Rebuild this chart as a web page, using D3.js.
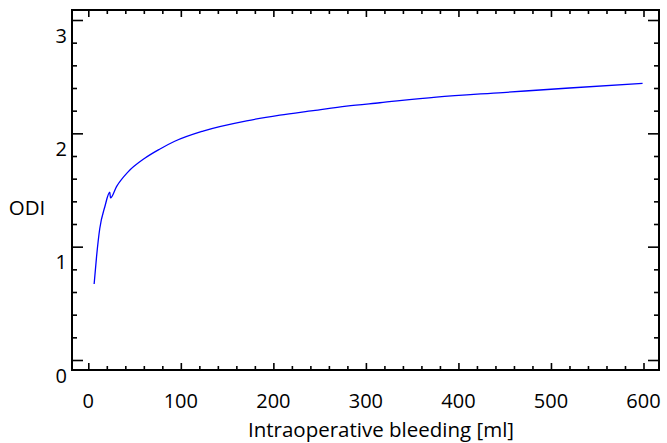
<!DOCTYPE html>
<meta charset="utf-8">
<style>
body { margin: 0; background: #fff; }
text { font-family: "Open Sans", Lato, sans-serif; fill: #000; }
.axis path { stroke: #000; stroke-width: 2px; }
.axis line { stroke: #000; stroke-width: 1.6px; }
</style>
<body>
<script src="https://d3js.org/d3.v7.min.js"></script>
<script>
// curve
var bleeding = [6.3, 8.9, 12.4, 17.8, 23.2, 24, 30.5, 43, 61, 77, 93.4, 124, 171, 207, 243, 279, 315, 376, 448, 520, 599];
var odi = [0.67, 0.91, 1.16, 1.35, 1.48, 1.43, 1.53, 1.66, 1.78, 1.86, 1.93, 2.02, 2.11, 2.16, 2.20, 2.24, 2.27, 2.32, 2.36, 2.40, 2.44];

var xMajor = [0, 100, 200, 300, 400, 500, 600];
var yMajor = [0, 1, 2, 3];

var width = 667,
    height = 443;

// plot box (don't call it "top", that's window.top)
var boxL = 72, boxR = 659, boxT = 10, boxB = 370;

var x = d3.scaleLinear().domain([0, 600]).range([88.3, 643.5]);
var y = d3.scaleLinear().domain([0, 3]).range([360, 20]);

var xMinor = d3.range(0, 620, 20).filter(function(v) { return v % 100 !== 0; });
var yMinor = d3.range(0, 3.1, 0.2).map(function(v) { return +v.toFixed(1); })
    .filter(function(v) { return v % 1 !== 0; });

var svg = d3.select("body").append("svg")
    .attr("width", width)
    .attr("height", height);

// inward ticks on all four sides
function ticks(axis, vals, size, tx, ty) {
  svg.append("g")
      .attr("class", "axis")
      .attr("transform", "translate(" + tx + "," + ty + ")")
      .call(axis.tickValues(vals).tickSizeInner(size).tickSizeOuter(0).tickFormat(""))
      .select("path").remove();
}

ticks(d3.axisBottom(x), xMajor, -7, 0, boxB);
ticks(d3.axisBottom(x), xMinor, -4, 0, boxB);
ticks(d3.axisTop(x), xMajor, -7, 0, boxT);
ticks(d3.axisTop(x), xMinor, -4, 0, boxT);
ticks(d3.axisLeft(y), yMajor, -11, boxL, 0);
ticks(d3.axisLeft(y), yMinor, -5, boxL, 0);
ticks(d3.axisRight(y), yMajor, -11, boxR, 0);
ticks(d3.axisRight(y), yMinor, -5, boxR, 0);

svg.append("rect")
    .attr("x", boxL)
    .attr("y", boxT)
    .attr("width", boxR - boxL)
    .attr("height", boxB - boxT)
    .attr("fill", "none")
    .attr("stroke", "#000")
    .attr("stroke-width", 2);

// tick labels
svg.selectAll(".xl")
    .data(xMajor)
  .enter().append("text")
    .attr("x", function(d) { return x(d); })
    .attr("y", 408)
    .attr("text-anchor", "middle")
    .style("font-size", "20px")
    .text(function(d) { return d; });

svg.selectAll(".yl")
    .data(yMajor)
  .enter().append("text")
    .attr("x", 67)
    .attr("y", function(d) { return y(d) + 22.5; })
    .attr("text-anchor", "end")
    .style("font-size", "20px")
    .text(function(d) { return d; });

svg.append("text")
    .attr("x", 381)
    .attr("y", 437)
    .attr("text-anchor", "middle")
    .style("font-size", "20.5px")
    .text("Intraoperative bleeding [ml]");

svg.append("text")
    .attr("x", 27)
    .attr("y", 215)
    .attr("text-anchor", "middle")
    .style("font-size", "20.5px")
    .text("ODI");

var line = d3.line()
    .x(function(d) { return x(d[0]); })
    .y(function(d) { return y(d[1]); })
    .curve(d3.curveMonotoneX);

svg.append("path")
    .datum(d3.zip(bleeding, odi))
    .attr("d", line)
    .attr("fill", "none")
    .attr("stroke", "#0000ff")
    .attr("stroke-width", 1.3);
</script>
</body>
</html>
